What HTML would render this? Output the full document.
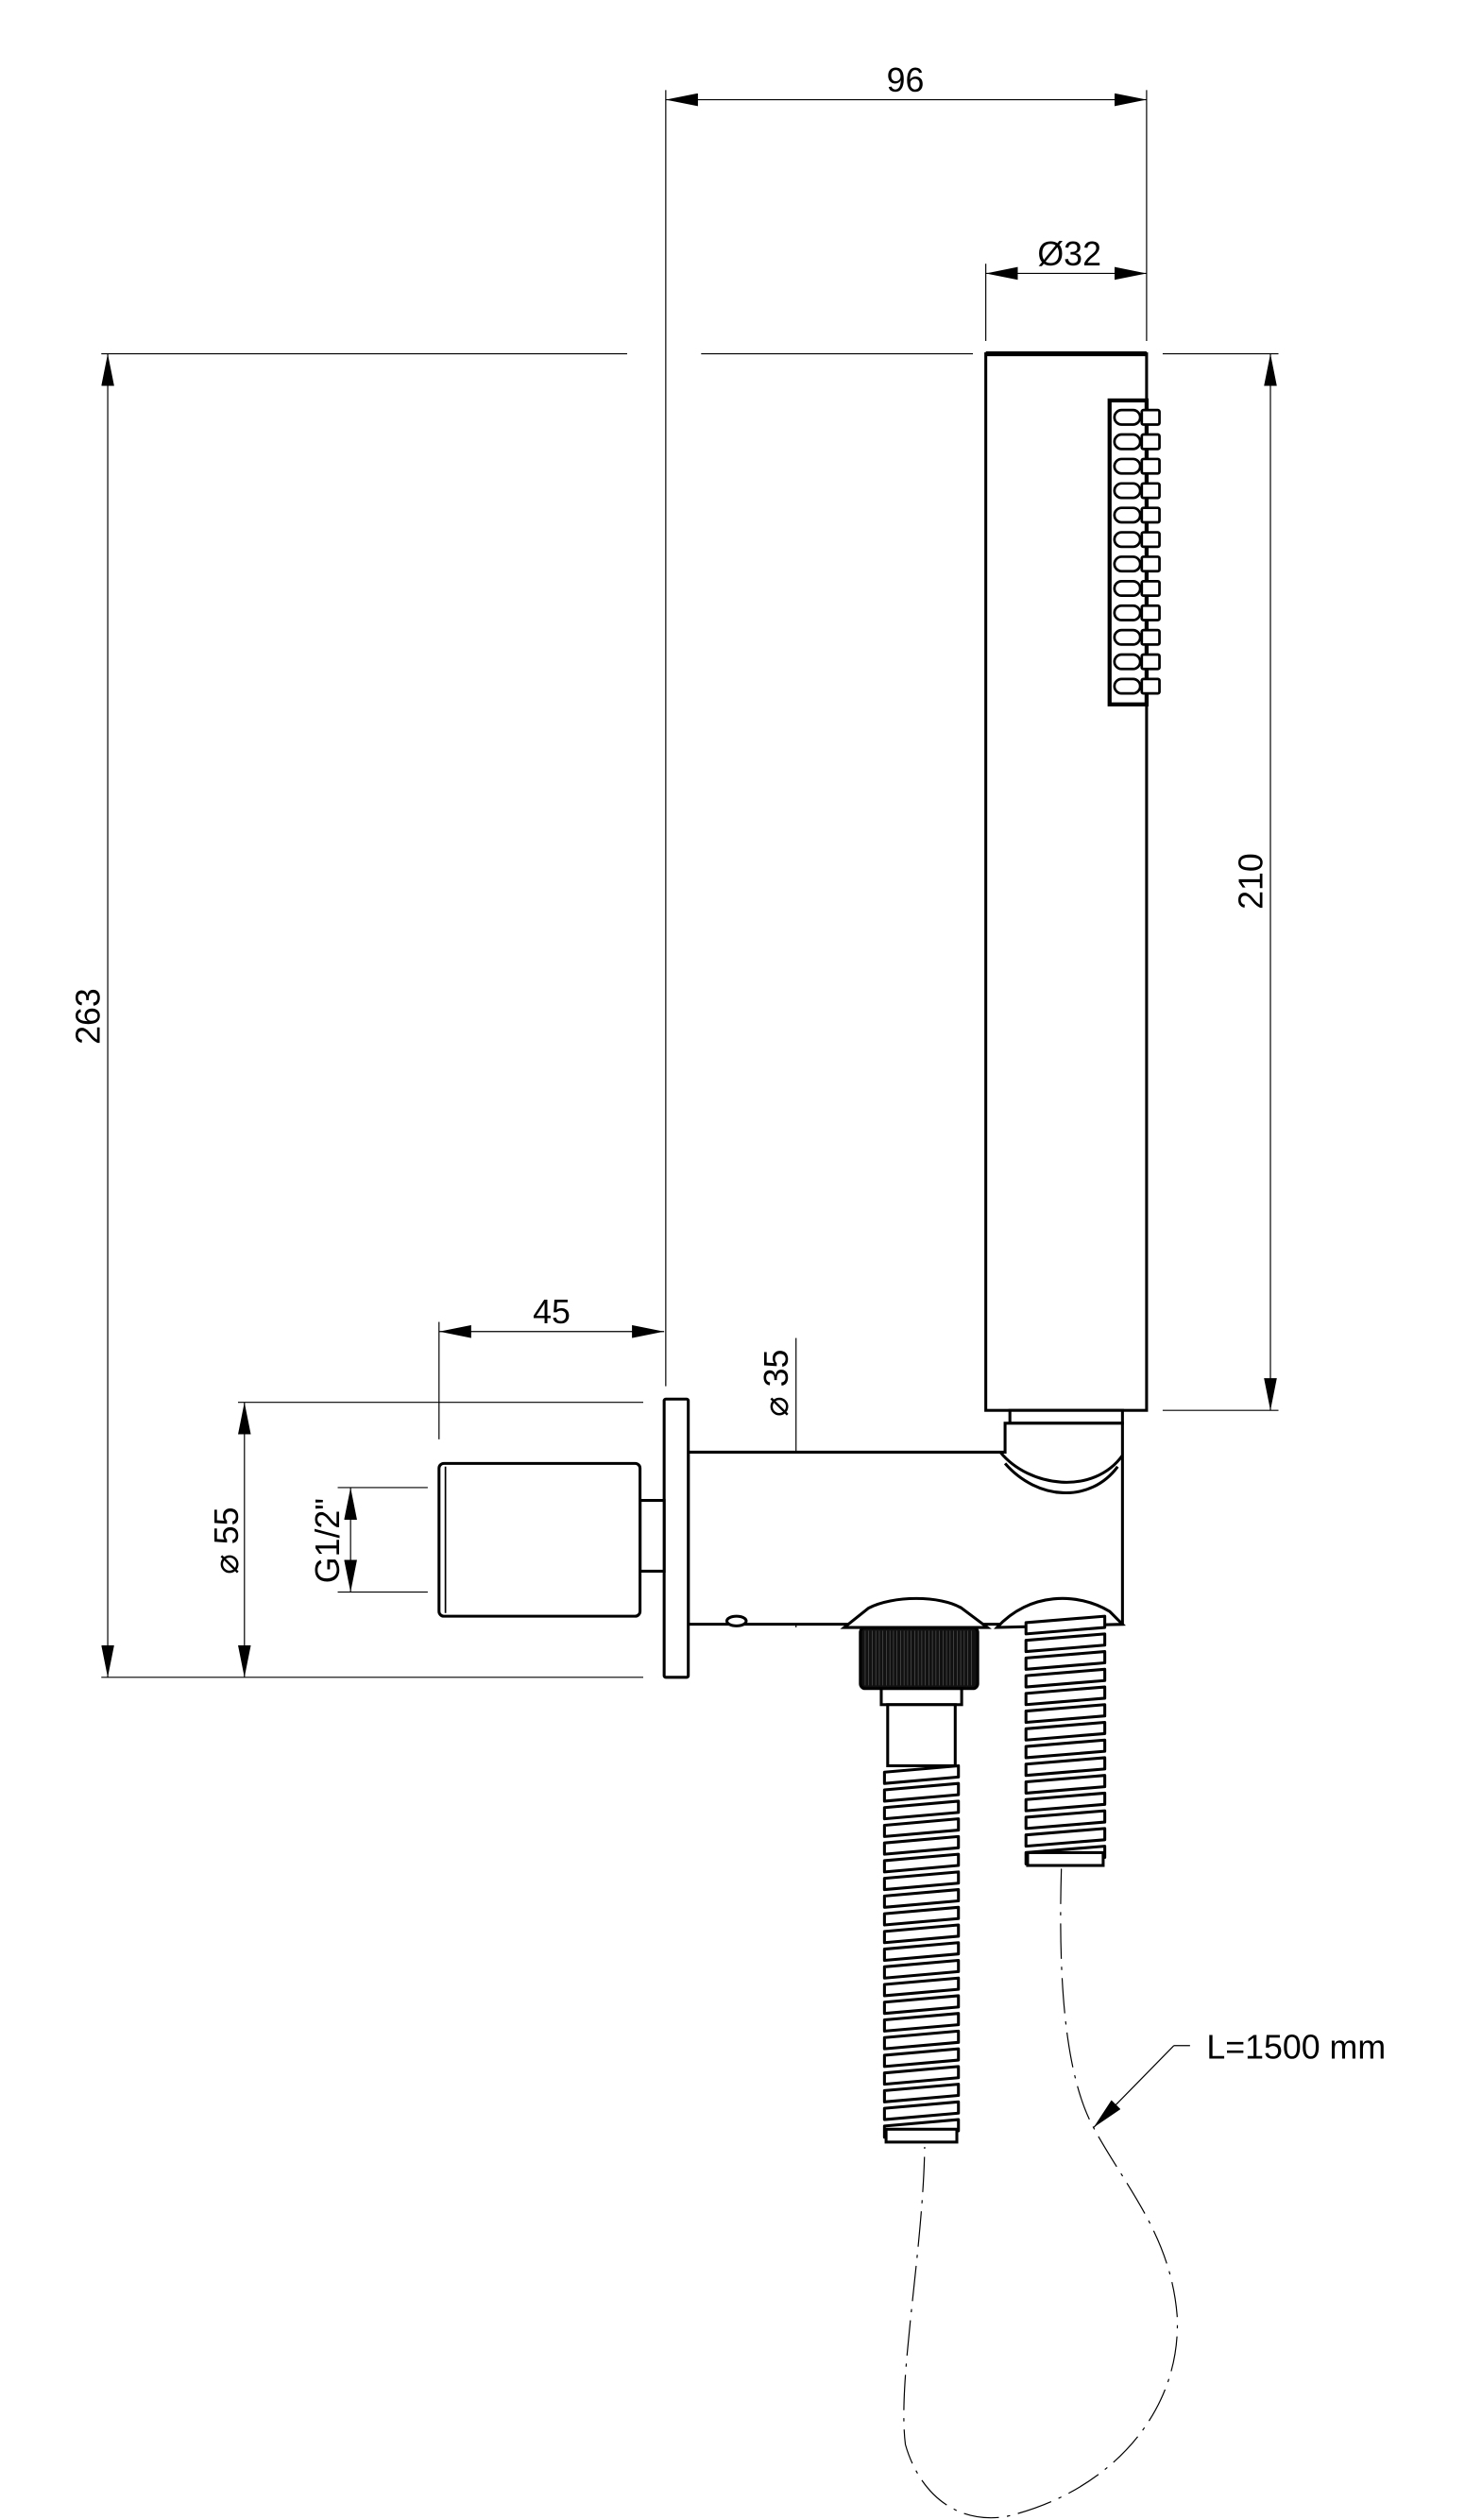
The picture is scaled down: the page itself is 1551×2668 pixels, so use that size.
<!DOCTYPE html>
<html><head><meta charset="utf-8">
<style>
html,body{margin:0;padding:0;background:#fff;}
svg{display:block;}
text{font-family:"Liberation Sans","DejaVu Sans",sans-serif;fill:#000;}
</style></head>
<body>
<svg id="s" width="1551" height="2668" viewBox="0 0 911 1567" preserveAspectRatio="none" xmlns="http://www.w3.org/2000/svg">
<defs>
<marker id="a" viewBox="0 0 20 8" refX="20" refY="4" markerWidth="20" markerHeight="8" markerUnits="userSpaceOnUse" orient="auto-start-reverse">
<path d="M0,0 L20,4 L0,8 Z" fill="#000"/>
</marker>
</defs>
<g stroke="#000" stroke-width="0.7" fill="none">
<line x1="414" y1="62" x2="713" y2="62" marker-start="url(#a)" marker-end="url(#a)"/>
<line x1="414" y1="56" x2="414" y2="862"/>
<line x1="713" y1="56" x2="713" y2="212"/>
<line x1="613" y1="170" x2="713" y2="170" marker-start="url(#a)" marker-end="url(#a)"/>
<line x1="613" y1="164" x2="613" y2="212"/>
<line x1="63" y1="220" x2="390" y2="220"/>
<line x1="436" y1="220" x2="605" y2="220"/>
<line x1="723" y1="220" x2="795" y2="220"/>
<line x1="67" y1="220" x2="67" y2="1043" marker-start="url(#a)" marker-end="url(#a)"/>
<line x1="790" y1="220" x2="790" y2="877" marker-start="url(#a)" marker-end="url(#a)"/>
<line x1="723" y1="877" x2="795" y2="877"/>
<line x1="273" y1="828" x2="413" y2="828" marker-start="url(#a)" marker-end="url(#a)"/>
<line x1="273" y1="822" x2="273" y2="895"/>
<line x1="152" y1="872" x2="152" y2="1043" marker-start="url(#a)" marker-end="url(#a)"/>
<line x1="148" y1="872" x2="400" y2="872"/>
<line x1="63" y1="1043" x2="400" y2="1043"/>
<line x1="218" y1="925" x2="218" y2="990" marker-start="url(#a)" marker-end="url(#a)"/>
<line x1="210" y1="925" x2="266" y2="925"/>
<line x1="210" y1="990" x2="266" y2="990"/>
<line x1="495" y1="832" x2="495" y2="903"/>
<line x1="495" y1="903" x2="495" y2="1012" marker-start="url(#a)" marker-end="url(#a)"/>
<line x1="740" y1="1272" x2="730" y2="1272"/>
<line x1="730" y1="1272" x2="680" y2="1323" marker-end="url(#a)"/>
<path d="M660,1162 C658,1230 662,1290 680,1323 C700,1360 728,1390 732,1440 C735,1500 690,1550 625,1565 C590,1570 570,1545 563,1520 C558,1480 574,1400 575,1335" stroke-dasharray="22,5,2,5"/>
</g>
<g stroke="#000" stroke-width="1.8" fill="#fff">
<rect x="613" y="220" width="100" height="657"/>
<line x1="613" y1="220" x2="713" y2="220" stroke-width="3"/>
<rect x="690" y="249" width="23" height="189" stroke-width="2.5"/>
<g id="nz"></g>
<rect x="628" y="877" width="70" height="8"/>
<path d="M625,885 L698,885 L698,1010 L428,1010 L428,903 L625,903 Z"/>
<path d="M622,903 C640,925 680,930 698,905" fill="none"/>
<path d="M625,910 C645,933 678,935 695,912" fill="none"/>
<rect x="413" y="870" width="15" height="173" rx="1"/>
<rect x="398" y="933" width="15" height="44"/>
<rect x="273" y="910" width="125" height="95" rx="3"/>
<line x1="277" y1="912" x2="277" y2="1003" stroke-width="1"/>
<ellipse cx="458" cy="1008" rx="6" ry="3"/>
<path d="M525,1012 L540,1000 C555,992 585,992 598,1000 L614,1012 Z"/>
<path d="M620,1012 C640,990 670,990 690,1002 L698,1010 Z"/>
<rect x="535" y="1012" width="73" height="38" rx="3" fill="#111"/>
<g id="kn"></g>
<rect x="548" y="1050" width="50" height="10"/>
<rect x="552" y="1060" width="42" height="38"/>
<g id="h1"></g>
<g id="h2"></g>
</g>
<text x="563" y="57" font-size="21" text-anchor="middle">96</text>
<text x="665" y="165" font-size="21" text-anchor="middle">Ø32</text>
<text x="343" y="823" font-size="21" text-anchor="middle">45</text>
<text x="806" y="1280" font-size="21" text-anchor="middle">L=1500 mm</text>
<text transform="translate(62,632) rotate(-90)" font-size="21" text-anchor="middle">263</text>
<text transform="translate(785,548) rotate(-90)" font-size="21" text-anchor="middle">210</text>
<text transform="translate(148,958) rotate(-90)" font-size="21" text-anchor="middle">⌀ 55</text>
<text transform="translate(211,958) rotate(-90)" font-size="21" text-anchor="middle">G1/2"</text>
<text transform="translate(490,860) rotate(-90)" font-size="21" text-anchor="middle">⌀ 35</text>
</svg>
<script>
var NS="http://www.w3.org/2000/svg";
function el(p,t,a){var e=document.createElementNS(NS,t);for(var k in a)e.setAttribute(k,a[k]);document.getElementById(p).appendChild(e);return e;}
for(var i=0;i<12;i++){var y=255+i*15.2;
el("nz","rect",{x:693,y:y,width:16,height:9,rx:4.5,"stroke-width":1.6});
el("nz","rect",{x:710,y:y,width:11,height:9,rx:1,"stroke-width":1.6});}
for(var x=538;x<606;x+=2.2){el("kn","line",{x1:x,y1:1014,x2:x,y2:1048,stroke:"#555","stroke-width":0.4});}
function hose(g,x1,x2,y0,y1){var w=x2-x1;for(var y=y0;y<y1;y+=11){
el(g,"path",{d:"M"+x1+","+(y+4)+" L"+x2+","+y+" L"+x2+","+(y+7)+" L"+x1+","+(y+11)+" Z","stroke-width":1.8,"stroke-linejoin":"round"});}
el(g,"rect",{x:x1+1,y:y1-2,width:w-2,height:8});}
hose("h1",550,596,1098,1326);
hose("h2",638,687,1005,1154);
</script>
</body></html>
